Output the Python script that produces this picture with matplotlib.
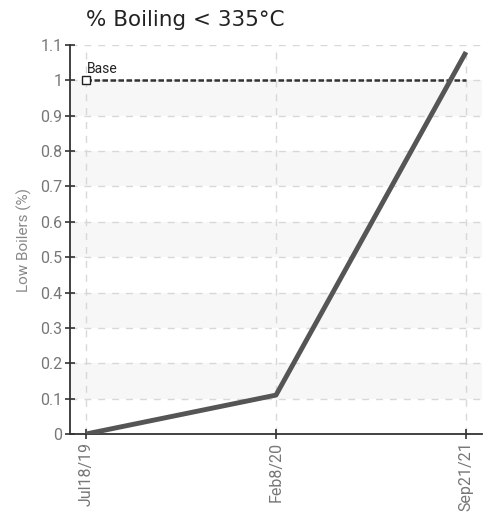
import matplotlib.pyplot as plt
from matplotlib import font_manager

dates = ["Jul18/19", "Feb8/20", "Sep21/21"]
low_boilers = [0.0, 0.11, 1.08]
base_value = 1.0
y_ticks = [0, 0.1, 0.2, 0.3, 0.4, 0.5, 0.6, 0.7, 0.8, 0.9, 1, 1.1]
y_tick_labels = ["0", "0.1", "0.2", "0.3", "0.4", "0.5", "0.6", "0.7", "0.8", "0.9", "1", "1.1"]

names = {f.name for f in font_manager.fontManager.ttflist}
narrow = "Liberation Sans Narrow" if "Liberation Sans Narrow" in names else "Roboto"

fig = plt.figure(figsize=(4.92, 5.18), dpi=100)
ax = fig.add_axes([70 / 492, 1 - 434 / 518, 412 / 492, 389 / 518])

x = list(range(len(dates)))
ax.set_xlim(-16 / 190, 2 + 16 / 190)
ax.set_ylim(0, 1.1)

# alternating bands
for lo in [0.1, 0.3, 0.5, 0.7, 0.9]:
    ax.axhspan(lo, lo + 0.1, color="#f7f7f7", zorder=0, lw=0)

ax.grid(True, color="#d8d8d8", linestyle=(0, (5, 5)), linewidth=1)
ax.set_axisbelow(True)

# base line
ax.plot([x[0], x[-1]], [base_value, base_value], color="#333333",
        linestyle=(0, (2.2, 1.0)), lw=1.8, zorder=3)
ax.plot([x[0]], [base_value], marker="s", ms=5.5, mfc="white", mec="#222222",
        mew=1, zorder=4)
ax.text(x[0] + 0.005, base_value + 0.012, "Base", fontsize=10, family=narrow,
        color="#222222", va="bottom", ha="left")

ax.plot(x, low_boilers, color="#555555", lw=3.5, solid_capstyle="butt", zorder=5)

ax.set_xticks(x)
ax.set_xticklabels(dates, rotation=90, family=narrow, fontsize=11.5, color="#777777")
ax.set_yticks(y_ticks)
ax.set_yticklabels(y_tick_labels, family=narrow, fontsize=11.5, color="#777777")
ax.tick_params(axis="both", direction="inout", length=7, width=1.2, color="#333333", pad=2)

for s in ["top", "right"]:
    ax.spines[s].set_visible(False)
for s in ["left", "bottom"]:
    ax.spines[s].set_color("#333333")
    ax.spines[s].set_linewidth(1.3)

ax.set_ylabel("Low Boilers (%)", family=narrow, fontsize=11, color="#888888", labelpad=6)

fig.text(86 / 492, 1 - 20 / 518, "% Boiling < 335°C", fontsize=15.5, color="#222222",
         va="center", ha="left", family="DejaVu Sans")

fig.savefig("out.png", dpi=100)
